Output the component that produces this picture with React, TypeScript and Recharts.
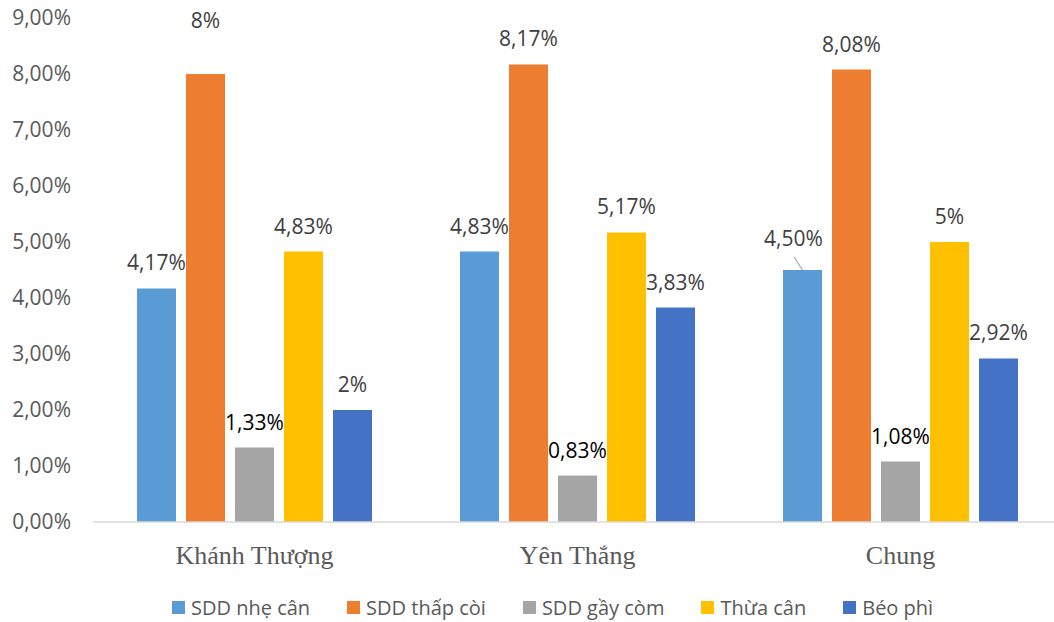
import { Bar, BarChart, XAxis, YAxis, Legend } from "recharts"

const categories = ["Khánh Thượng", "Yên Thắng", "Chung"]
const nheCan = [4.17, 4.83, 4.5]
const thapCoi = [8, 8.17, 8.08]
const gayCom = [1.33, 0.83, 1.08]
const thuaCan = [4.83, 5.17, 5]
const beoPhi = [2, 3.83, 2.92]
const yTicks = [0, 1, 2, 3, 4, 5, 6, 7, 8, 9]

const series = [
  { key: "nheCan", name: "SDD nhẹ cân", color: "#5B9BD5", labelColor: "#404040" },
  { key: "thapCoi", name: "SDD thấp còi", color: "#ED7D31", labelColor: "#404040" },
  { key: "gayCom", name: "SDD gầy còm", color: "#A5A5A5", labelColor: "#000000" },
  { key: "thuaCan", name: "Thừa cân", color: "#FFC000", labelColor: "#404040" },
  { key: "beoPhi", name: "Béo phì", color: "#4472C4", labelColor: "#404040" },
]

const data = categories.map((name, i) => ({
  name,
  nheCan: nheCan[i],
  thapCoi: thapCoi[i],
  gayCom: gayCom[i],
  thuaCan: thuaCan[i],
  beoPhi: beoPhi[i],
}))

const FONT = "'Open Sans', 'Noto Sans', sans-serif"

const fmtTick = (v: number) => v.toFixed(2).replace(".", ",") + "%"
const fmtLabel = (v: number) =>
  Number.isInteger(v) ? `${v}%` : v.toFixed(2).replace(".", ",") + "%"

// labels that Excel moved by hand
const labelNudge: Record<string, { dx: number; dy: number; leader?: boolean }> = {
  "thapCoi-0": { dx: 0, dy: -28 },
  "nheCan-2": { dx: -9, dy: -6, leader: true },
}

function makeLabel(key: string, color: string) {
  return (props: any) => {
    const { x, y, width, value, index } = props
    const cx = x + width / 2
    const n = labelNudge[`${key}-${index}`] || { dx: 0, dy: 0 }
    return (
      <g>
        {n.leader && (
          <line x1={cx} y1={y} x2={cx - 8.5} y2={y - 13} stroke="#A6A6A6" strokeWidth={1.2} />
        )}
        <text
          x={cx + n.dx}
          y={y - 18 + n.dy}
          textAnchor="middle"
          fill={color}
          fontSize={21}
          fontFamily={FONT}
        >
          {fmtLabel(value)}
        </text>
      </g>
    )
  }
}

const CategoryTick = (props: any) => {
  const { x, y, payload } = props
  return (
    <text
      x={x}
      y={y + 41.5}
      textAnchor="middle"
      fill="#595959"
      fontSize={26}
      fontFamily="'Liberation Serif', 'Times New Roman', serif"
    >
      {payload.value}
    </text>
  )
}

const LegendContent = () => (
  <div
    style={{
      display: "flex",
      alignItems: "center",
      paddingLeft: 172,
      gap: 37,
      height: 34,
      fontFamily: FONT,
      fontSize: 20,
      color: "#595959",
      whiteSpace: "nowrap",
    }}
  >
    {series.map((s) => (
      <div key={s.key} style={{ display: "flex", alignItems: "center" }}>
        <span style={{ width: 13, height: 13, background: s.color, marginRight: 6, display: "inline-block" }} />
        <span>{s.name}</span>
      </div>
    ))}
  </div>
)

export default function App() {
  return (
    <div
      style={{
        position: "absolute",
        left: 0,
        top: 0,
        width: 1054,
        height: 622,
        overflow: "hidden",
        background: "#fff",
      }}
    >
      <BarChart
        width={1070}
        height={622}
        data={data}
        margin={{ top: 18, right: 8, left: 0, bottom: 0 }}
        barGap={10}
      >
        <XAxis
          dataKey="name"
          height={100}
          axisLine={{ stroke: "#D9D9D9", strokeWidth: 1.5 }}
          tickLine={false}
          tickSize={0}
          tickMargin={0}
          tick={<CategoryTick />}
        />
        <YAxis
          width={93}
          domain={[0, 9]}
          ticks={yTicks}
          interval={0}
          axisLine={false}
          tickLine={false}
          tickSize={0}
          tickMargin={22}
          tickFormatter={fmtTick}
          tick={{ fill: "#595959", fontSize: 21, fontFamily: FONT }}
        />
        <Legend
          layout="horizontal"
          verticalAlign="middle"
          align="center"
          wrapperStyle={{ top: 590, left: 0 }}
          content={<LegendContent />}
        />
        {series.map((s) => (
          <Bar
            key={s.key}
            dataKey={s.key}
            name={s.name}
            fill={s.color}
            barSize={39}
            isAnimationActive={false}
            label={makeLabel(s.key, s.labelColor)}
          />
        ))}
      </BarChart>
    </div>
  )
}
